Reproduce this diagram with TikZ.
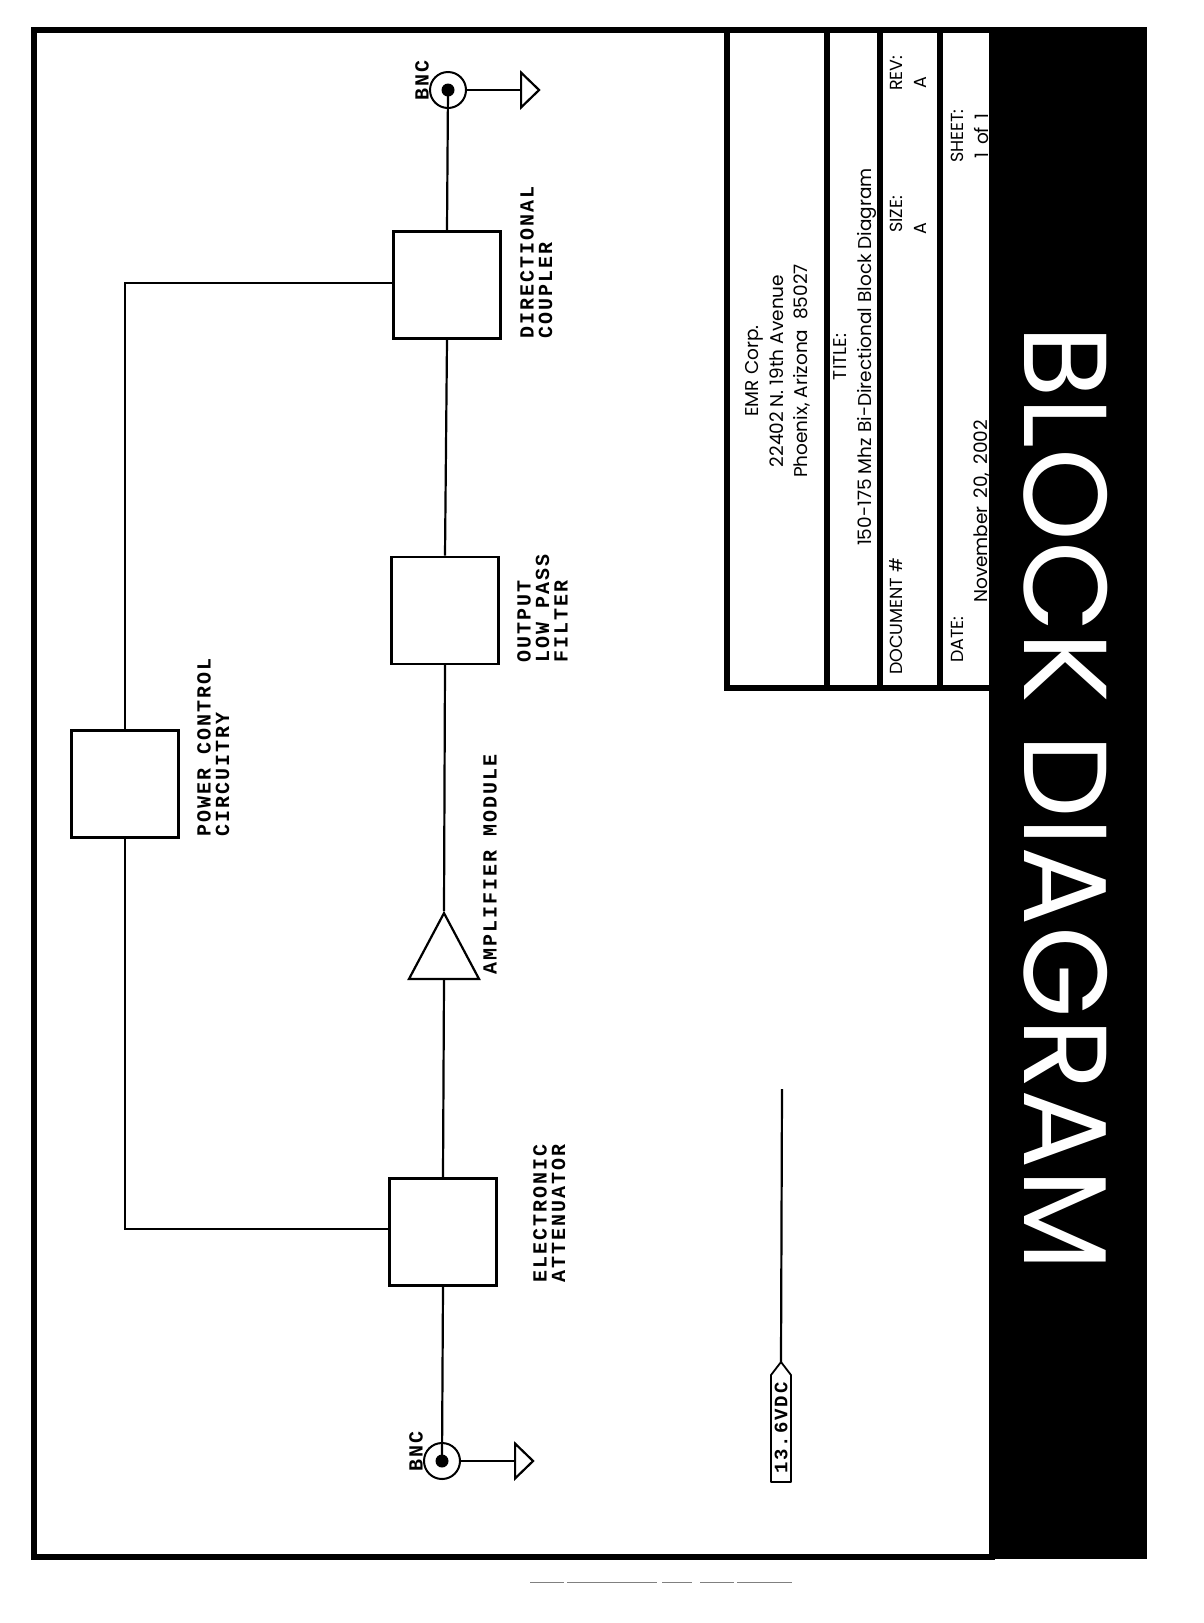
\documentclass[tikz,border=0pt]{standalone}
\usepackage{xcolor}
\usepackage{fontspec}
\setmainfont{Poppins}
\newfontfamily\schemfont[LetterSpace=10]{Liberation Mono}
\newfontfamily\valfont[WordSpace=1.6]{Poppins}
\usetikzlibrary{positioning,shapes.geometric}

\begin{document}
\begin{tikzpicture}[
  x=1pt, y=-1pt,
  wire/.style={line width=2.2pt},
  box/.style={draw, line width=2.4pt, minimum size=107pt, inner sep=0pt},
  port/.style={draw, circle, line width=2pt, minimum size=36pt, inner sep=0pt},
  pin/.style={fill, circle, minimum size=13pt, inner sep=0pt},
  gnd/.style={draw, line width=2.2pt, isosceles triangle, isosceles triangle apex angle=88, minimum height=18pt, inner sep=0pt},
  amp/.style={draw, line width=2.2pt, isosceles triangle, isosceles triangle apex angle=56, shape border rotate=90, minimum height=66pt, inner sep=0pt},
  lbl/.style={rotate=90, anchor=north west, align=left, inner sep=0pt, font=\schemfont\bfseries\fontsize{20}{18.5}\selectfont},
  info/.style={rotate=90, align=center, inner sep=0pt, font=\fontsize{18.5}{24.5}\selectfont},
  field/.style={rotate=90, anchor=west, inner sep=0pt, font=\fontsize{17.5}{17.5}\selectfont},
  val/.style={rotate=90, anchor=west, inner sep=0pt, font=\valfont\fontsize{18.5}{18.5}\selectfont},
  rule/.style={line width=6pt}
]
\useasboundingbox (0,0) rectangle (1203,1623);
\fill[white] (0,0) rectangle (1203,1623);

\fill[black] (989,27) rectangle (1147,1559);
\draw[rule] (34,30) rectangle (992,1557);
\draw[rule] (727,30) -- (727,688) -- (989,688);
\draw[rule] (827,30) -- (827,688);
\draw[rule] (880,30) -- (880,688);
\draw[rule] (940,30) -- (940,688);

\node[rotate=-90, inner sep=0pt, text=white, font=\fontsize{118}{118}\selectfont] (head) at (1066,798) {BLOCK DIAGRAM};

\node[info] (addr) at (778,371) {EMR Corp.\\22402 N. 19th Avenue\\Phoenix, Arizona~~85027};
\node[info] (ttl) at (855,357) {TITLE:\\150-175 Mhz Bi-Directional Block Diagram};
\node[field] (docno) at (896,675) {DOCUMENT \#};
\node[field] (sz) at (896,233) {SIZE:};
\node[field] (rv) at (896,91) {REV:};
\node[field] (sza) at (920,235) {A};
\node[field] (rva) at (920,89) {A};
\node[field] (dt) at (957,663) {DATE:};
\node[field] (sht) at (957,163) {SHEET:};
\node[val] (dtv) at (982,603) {November 20, 2002};
\node[val] (shtv) at (982,159) {1 of 1};

\node[port] (bnctop) at (448,90) {};
\node[pin] at (bnctop.center) {};
\node[gnd, right=53pt of bnctop] (gndtop) {};
\node[box] (coupler) at (447,285) {};
\node[box, below=216pt of coupler, xshift=-2pt] (lpf) {};
\node[amp] (ampl) at (444,958) {};
\node[box, below=197pt of ampl.south, anchor=north, xshift=-1pt] (atten) {};
\node[box] (pwr) at (125,784) {};
\node[port] (bncbot) at (442,1461) {};
\node[pin] at (bncbot.center) {};
\node[gnd, right=53pt of bncbot] (gndbot) {};

\node[lbl, anchor=center] (bnctxt) at (422,80) {BNC};
\node[lbl, anchor=center] (bncbtxt) at (416,1451) {BNC};
\node[lbl] (couplertxt) at (520,339) {DIRECTIONAL\\COUPLER};
\node[lbl] (lpftxt) at (517,663) {OUTPUT\\LOW PASS\\FILTER};
\node[lbl] (amptxt) at (483,975) {AMPLIFIER MODULE};
\node[lbl] (pwrtxt) at (197,837) {POWER CONTROL\\CIRCUITRY};
\node[lbl] (attentxt) at (533,1283) {ELECTRONIC\\ATTENUATOR};

\draw[wire] (bnctop.center) -- (coupler.north);
\draw[wire] (bnctop.east) -- (gndtop.west);
\draw[wire] (coupler.south) -- (lpf.north);
\draw[wire] (lpf.south) -- (ampl.apex);
\draw[wire] (ampl.south) -- (atten.north);
\draw[wire] (atten.south) -- (bncbot.center);
\draw[wire] (bncbot.east) -- (gndbot.west);
\draw[wire] (coupler.west |- 0,283) -| (pwr.north);
\draw[wire] (pwr.south) |- (atten.west |- 0,1229);

\coordinate (tagtip) at (781,1362);
\coordinate (feed) at (782,1089);
\draw[line width=1.8pt, line join=round] (tagtip) -- (791,1375) -- (791,1482) -- (771,1482) -- (771,1375) -- cycle;
\node[rotate=90, inner sep=0pt, font=\schemfont\bfseries\fontsize{19}{19}\selectfont] (vdc) at (781,1428) {13.6VDC};
\draw[wire] (tagtip) -- (feed);

\draw[gray, line width=1pt, dash pattern=on 34pt off 3pt on 90pt off 5pt on 30pt off 8pt] (530,1582) -- (792,1582);
\end{tikzpicture}
\end{document}
